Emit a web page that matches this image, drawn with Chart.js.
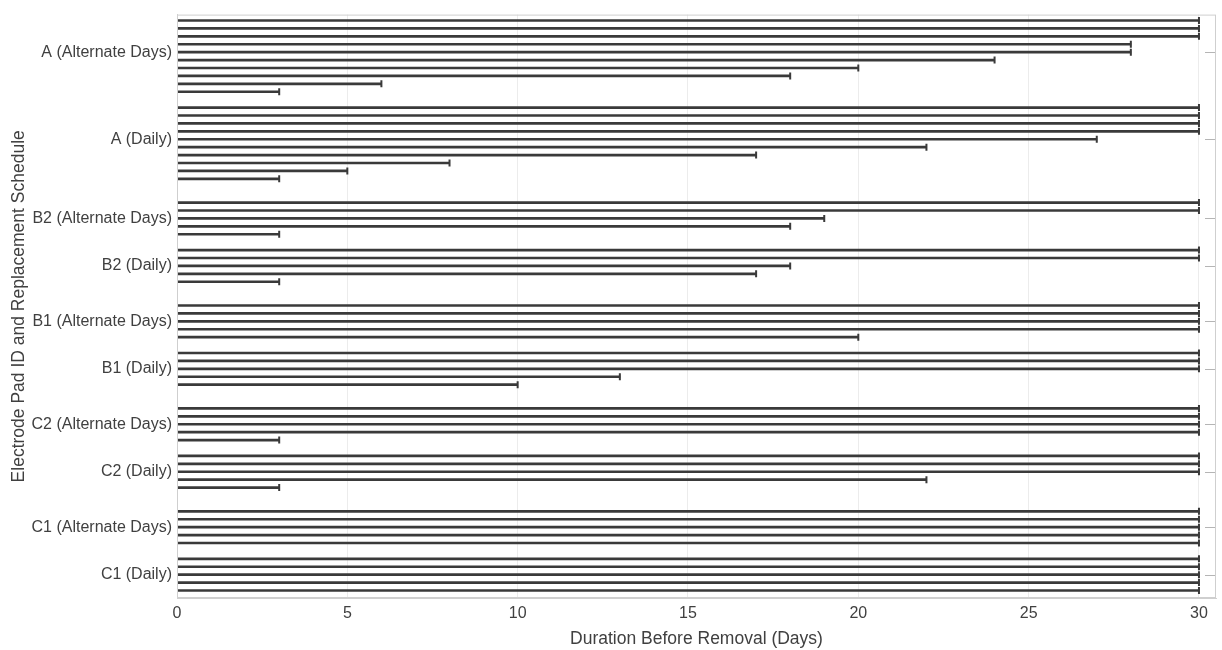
<!DOCTYPE html>
<html>
<head>
<meta charset="utf-8">
<script src="https://cdn.jsdelivr.net/npm/chart.js@4"></script>
<style>
    body { margin: 0; background: #fff; }
    #pads-chart { display: block; }
</style>
</head>
<body>
<canvas id="pads-chart" width="1222" height="650"></canvas>
<script>
const groupLabels = [
    'A (Alternate Days)', 'A (Daily)',
    'B2 (Alternate Days)', 'B2 (Daily)',
    'B1 (Alternate Days)', 'B1 (Daily)',
    'C2 (Alternate Days)', 'C2 (Daily)',
    'C1 (Alternate Days)', 'C1 (Daily)'
];
const aAlternate = [30, 30, 30, 28, 28, 24, 20, 18, 6, 3];
const aDaily = [30, 30, 30, 30, 27, 22, 17, 8, 5, 3];
const b2Alternate = [30, 30, 19, 18, 3];
const b2Daily = [30, 30, 18, 17, 3];
const b1Alternate = [30, 30, 30, 30, 20];
const b1Daily = [30, 30, 30, 13, 10];
const c2Alternate = [30, 30, 30, 30, 3];
const c2Daily = [30, 30, 30, 22, 3];
const c1Alternate = [30, 30, 30, 30, 30];
const c1Daily = [30, 30, 30, 30, 30];
const xTicks = [0, 5, 10, 15, 20, 25, 30];

const groupValues = [aAlternate, aDaily, b2Alternate, b2Daily, b1Alternate,
    b1Daily, c2Alternate, c2Daily, c1Alternate, c1Daily];

// lay the pads out on row slots: one empty row between schedules, two between pads
const points = [];
const tickSlots = [];
let slot = 0;
let prevPad = null;
groupLabels.forEach((label, g) => {
    const pad = label.split(' ')[0];
    if (prevPad !== null) slot += (pad === prevPad ? 2 : 3);
    prevPad = pad;
    const vals = groupValues[g];
    tickSlots.push(slot + Math.floor((vals.length - 1) / 2));
    vals.forEach((v, i) => {
        points.push({ x: v, y: slot });
        if (i < vals.length - 1) slot += 1;
    });
});
const firstSlot = points[0].y;
const lastSlot = points[points.length - 1].y;

const lineColor = '#3a3a3a';
const titleFont = { size: 17.5 };

const boxPlugin = {
    id: 'box',
    afterDraw(chart) {
        const { ctx, chartArea } = chart;
        const yScale = chart.scales['y'];
        ctx.save();
        ctx.strokeStyle = '#cfcfcf';
        ctx.lineWidth = 1;
        ctx.strokeRect(chartArea.left + 0.5, chartArea.top + 0.5,
            chartArea.right - chartArea.left - 1, chartArea.bottom - chartArea.top - 1);
        // inward ticks on the right side
        ctx.strokeStyle = '#b5b5b5';
        tickSlots.forEach(s => {
            const y = Math.round(yScale.getPixelForValue(s)) + 0.5;
            ctx.beginPath();
            ctx.moveTo(chartArea.right - 1, y);
            ctx.lineTo(chartArea.right - 11, y);
            ctx.stroke();
        });
        ctx.restore();
    }
};

Chart.defaults.font.family = "'Liberation Sans', Arial, sans-serif";
Chart.defaults.font.size = 16;
Chart.defaults.color = '#404040';

new Chart(document.getElementById('pads-chart').getContext('2d'), {
    type: 'bar',
    data: {
        datasets: [{
            type: 'bar',
            data: points,
            backgroundColor: lineColor,
            barThickness: 2,
            order: 2
        }, {
            type: 'scatter',
            data: points,
            pointStyle: 'line',
            rotation: 90,
            radius: 3.5,
            borderWidth: 2,
            borderColor: lineColor,
            order: 1
        }, {
            type: 'line',
            data: [{ x: 0, y: firstSlot - 0.5 }, { x: 0, y: lastSlot + 0.3 }],
            borderColor: lineColor,
            borderWidth: 2,
            pointRadius: 0,
            order: 0
        }]
    },
    options: {
        responsive: false,
        animation: false,
        indexAxis: 'y',
        layout: { padding: { top: 12, right: 4, left: 0, bottom: 0 } },
        plugins: {
            legend: { display: false },
            tooltip: { enabled: false }
        },
        scales: {
            x: {
                type: 'linear',
                min: 0,
                max: 30.5,
                afterBuildTicks(scale) {
                    scale.ticks = xTicks.map(v => ({ value: v }));
                },
                afterFit(scale) { scale.height = 52; },
                grid: { color: '#ececec', drawTicks: false },
                border: { color: '#cfcfcf' },
                ticks: { padding: 6, maxRotation: 0 },
                title: {
                    display: true,
                    text: 'Duration Before Removal (Days)',
                    font: titleFont,
                    padding: { top: 0, bottom: 0 }
                }
            },
            y: {
                type: 'linear',
                reverse: true,
                offset: false,
                min: firstSlot - 0.75,
                max: lastSlot + 0.95,
                afterBuildTicks(scale) {
                    scale.ticks = tickSlots.map(v => ({ value: v }));
                },
                afterFit(scale) { scale.width = 177; },
                grid: { display: false, drawTicks: false, offset: false },
                border: { color: '#cfcfcf' },
                ticks: {
                    padding: 5,
                    autoSkip: false,
                    callback: value => groupLabels[tickSlots.indexOf(value)]
                },
                title: {
                    display: true,
                    text: 'Electrode Pad ID and Replacement Schedule',
                    font: titleFont,
                    padding: { top: 9, bottom: 0 }
                }
            }
        }
    },
    plugins: [boxPlugin]
});
</script>
</body>
</html>
